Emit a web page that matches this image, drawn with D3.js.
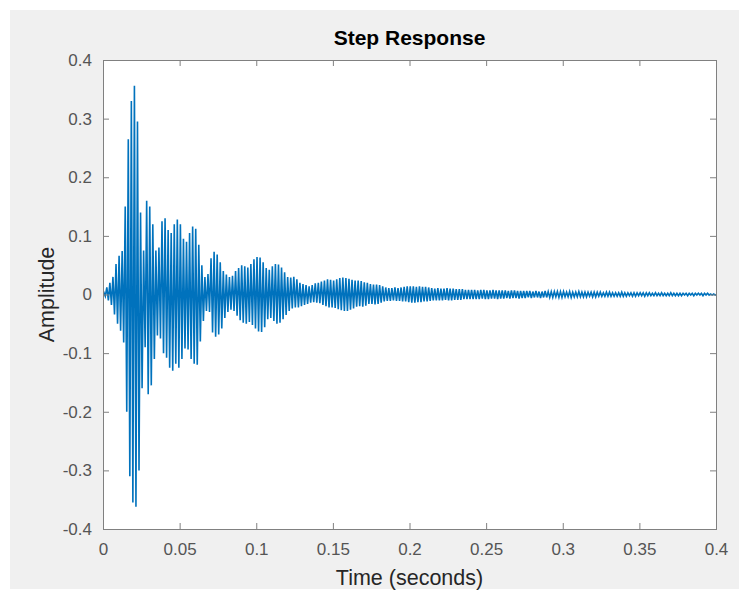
<!DOCTYPE html>
<html>
<head>
<meta charset="utf-8">
<script src="https://cdn.jsdelivr.net/npm/d3@7"></script>
<style>
  html, body { margin: 0; padding: 0; background: #ffffff; }
  #chart { width: 739px; height: 590px; }
  text { font-family: "Liberation Sans", Arial, Helvetica, sans-serif; }
</style>
</head>
<body>
<div id="chart"></div>
<script>
// Peak (upper) and trough (lower) of each oscillation cycle
const CYCLE = 0.002; // seconds per cycle
const PEAKS = [
  0.004,0.012,0.020,0.030,0.052,0.066,0.074,0.150,0.265,0.330,
  0.356,0.295,0.140,0.075,0.160,0.150,0.120,0.075,0.080,0.125,
  0.130,0.110,0.105,0.120,0.128,0.120,0.095,0.090,0.105,0.116,
  0.112,0.085,0.050,0.030,0.035,0.062,0.073,0.068,0.055,0.040,
  0.034,0.030,0.032,0.040,0.045,0.050,0.048,0.046,0.052,0.060,
  0.064,0.063,0.055,0.045,0.042,0.048,0.052,0.051,0.046,0.038,
  0.030,0.029,0.030,0.026,0.020,0.018,0.016,0.014,0.016,0.019,
  0.020,0.022,0.024,0.026,0.025,0.024,0.026,0.028,0.029,0.028,
  0.027,0.025,0.024,0.024,0.023,0.021,0.020,0.018,0.017,0.017,
  0.016,0.014,0.012,0.011,0.011,0.012,0.011,0.012,0.013,0.014,
  0.014,0.014,0.013,0.014,0.013,0.013,0.012,0.011,0.010,0.011,
  0.010,0.010,0.011,0.010,0.010,0.009,0.009,0.009,0.008,0.008,
  0.008,0.008,0.007,0.008,0.008,0.007,0.007,0.008,0.007,0.007,
  0.007,0.007,0.006,0.007,0.007,0.006,0.006,0.006,0.006,0.006,
  0.005,0.006,0.005,0.005,0.006,0.005,0.005,0.005,0.005,0.005,
  0.005,0.004,0.005,0.004,0.004,0.005,0.004,0.004,0.004,0.004,
  0.004,0.004,0.004,0.003,0.004,0.004,0.003,0.003,0.003,0.004,
  0.003,0.003,0.003,0.003,0.003,0.003,0.003,0.003,0.003,0.002,
  0.003,0.002,0.003,0.002,0.002,0.003,0.002,0.002,0.002,0.002,
  0.002,0.002,0.002,0.002,0.002,0.002,0.002,0.002,0.001,0.001
];
const TROUGHS = [
  -0.003,-0.010,-0.018,-0.034,-0.050,-0.062,-0.082,-0.200,-0.310,-0.355,
  -0.362,-0.300,-0.160,-0.090,-0.170,-0.155,-0.110,-0.070,-0.075,-0.100,
  -0.108,-0.125,-0.130,-0.118,-0.125,-0.110,-0.092,-0.094,-0.110,-0.118,
  -0.120,-0.080,-0.045,-0.028,-0.030,-0.065,-0.072,-0.068,-0.058,-0.040,
  -0.030,-0.026,-0.028,-0.036,-0.044,-0.048,-0.050,-0.047,-0.052,-0.058,
  -0.063,-0.064,-0.056,-0.042,-0.040,-0.045,-0.050,-0.048,-0.042,-0.035,
  -0.028,-0.024,-0.022,-0.022,-0.020,-0.018,-0.016,-0.014,-0.013,-0.014,
  -0.015,-0.018,-0.020,-0.022,-0.022,-0.023,-0.025,-0.027,-0.028,-0.028,
  -0.026,-0.024,-0.021,-0.020,-0.021,-0.019,-0.016,-0.016,-0.017,-0.016,
  -0.014,-0.012,-0.011,-0.011,-0.010,-0.011,-0.011,-0.012,-0.012,-0.013,
  -0.014,-0.014,-0.013,-0.013,-0.012,-0.012,-0.011,-0.010,-0.010,-0.010,
  -0.010,-0.009,-0.010,-0.010,-0.009,-0.009,-0.009,-0.008,-0.008,-0.008,
  -0.008,-0.008,-0.008,-0.007,-0.008,-0.008,-0.007,-0.007,-0.008,-0.007,
  -0.007,-0.006,-0.007,-0.006,-0.006,-0.007,-0.006,-0.006,-0.005,-0.006,
  -0.005,-0.005,-0.006,-0.005,-0.005,-0.005,-0.005,-0.004,-0.005,-0.005,
  -0.004,-0.004,-0.005,-0.004,-0.004,-0.004,-0.004,-0.004,-0.003,-0.004,
  -0.004,-0.003,-0.003,-0.003,-0.003,-0.003,-0.003,-0.003,-0.003,-0.003,
  -0.003,-0.002,-0.003,-0.003,-0.002,-0.002,-0.003,-0.002,-0.002,-0.002,
  -0.002,-0.002,-0.002,-0.002,-0.002,-0.002,-0.002,-0.002,-0.002,-0.001,
  -0.002,-0.001,-0.002,-0.001,-0.001,-0.002,-0.001,-0.001,-0.001,-0.001
];
const X_TICKS = [0, 0.05, 0.1, 0.15, 0.2, 0.25, 0.3, 0.35, 0.4];
const Y_TICKS = [-0.4, -0.3, -0.2, -0.1, 0, 0.1, 0.2, 0.3, 0.4];

const width = 739, height = 590;
const margin = { top: 60, right: 23, bottom: 61, left: 103 };
const innerW = width - margin.left - margin.right;
const innerH = height - margin.top - margin.bottom;

const svg = d3.select("#chart").append("svg")
    .attr("width", width)
    .attr("height", height);

// figure background
svg.append("rect")
    .attr("x", 10).attr("y", 10)
    .attr("width", width - 10).attr("height", height - 11)
    .attr("fill", "#f0f0f0");

const g = svg.append("g")
    .attr("transform", `translate(${margin.left},${margin.top})`);

const x = d3.scaleLinear().domain([0, 0.4]).range([0, innerW]);
const y = d3.scaleLinear().domain([-0.4, 0.4]).range([innerH, 0]);

g.append("rect")
    .attr("width", innerW).attr("height", innerH)
    .attr("fill", "#ffffff");

g.append("clipPath").attr("id", "clip")
  .append("rect").attr("width", innerW).attr("height", innerH);

// build the step response trace from the cycle extremes
const pts = [[0, 0]];
PEAKS.forEach((p, i) => {
    pts.push([i * CYCLE + CYCLE / 4, p]);
    pts.push([i * CYCLE + 3 * CYCLE / 4, TROUGHS[i]]);
});
pts.push([0.4, 0]);

g.append("path")
    .datum(pts)
    .attr("clip-path", "url(#clip)")
    .attr("fill", "none")
    .attr("stroke", "#0072bd")
    .attr("stroke-width", 1.6)
    .attr("d", d3.line().x(d => x(d[0])).y(d => y(d[1])));

const fmt = d => String(+d.toFixed(2));
const tickLen = 6;

g.append("g")
    .attr("transform", `translate(0,${innerH})`)
    .call(d3.axisBottom(x).tickValues(X_TICKS).tickFormat(fmt)
        .tickSizeInner(-tickLen).tickSizeOuter(0).tickPadding(14));
g.append("g")
    .call(d3.axisTop(x).tickValues(X_TICKS).tickFormat("")
        .tickSizeInner(-tickLen).tickSizeOuter(0));
g.append("g")
    .call(d3.axisLeft(y).tickValues(Y_TICKS).tickFormat(fmt)
        .tickSizeInner(-tickLen).tickSizeOuter(0).tickPadding(11));
g.append("g")
    .attr("transform", `translate(${innerW},0)`)
    .call(d3.axisRight(y).tickValues(Y_TICKS).tickFormat("")
        .tickSizeInner(-tickLen).tickSizeOuter(0));

g.selectAll(".domain").remove();
g.selectAll(".tick line").attr("stroke", "#808080");
g.selectAll(".tick text")
    .attr("fill", "#555555")
    .style("font-size", "17px");

// axes box
g.append("rect")
    .attr("width", innerW).attr("height", innerH)
    .attr("fill", "none")
    .attr("stroke", "#808080")
    .attr("stroke-width", 1)
    .attr("shape-rendering", "crispEdges");

svg.append("text")
    .attr("x", margin.left + innerW / 2).attr("y", 45)
    .attr("text-anchor", "middle")
    .style("font-size", "21px").style("font-weight", "bold")
    .attr("fill", "#000")
    .text("Step Response");

svg.append("text")
    .attr("x", margin.left + innerW / 2).attr("y", 585)
    .attr("text-anchor", "middle")
    .style("font-size", "21.5px")
    .attr("fill", "#262626")
    .text("Time (seconds)");

svg.append("text")
    .attr("transform", `translate(54,${margin.top + innerH / 2}) rotate(-90)`)
    .attr("text-anchor", "middle")
    .style("font-size", "21.5px")
    .attr("fill", "#262626")
    .text("Amplitude");
</script>
</body>
</html>
